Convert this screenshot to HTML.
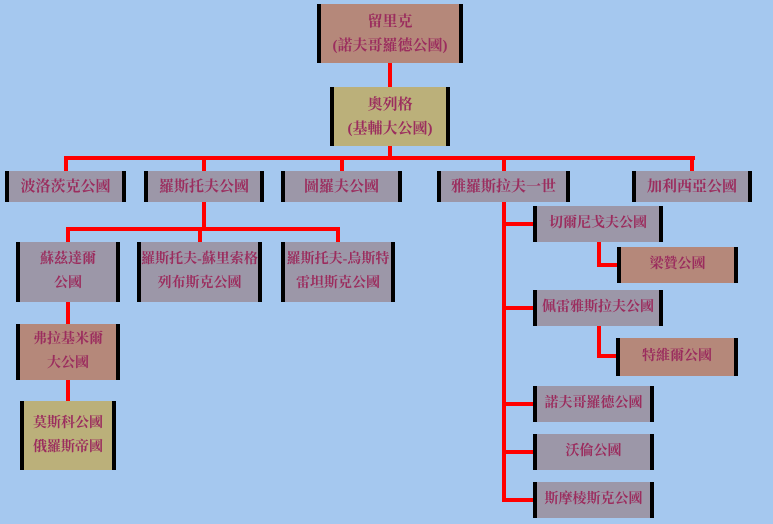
<!DOCTYPE html>
<html><head><meta charset="utf-8"><style>
body{margin:0;width:773px;height:524px;background:#a5c8ef;position:relative;overflow:hidden;font-family:"Liberation Serif","Noto Serif CJK SC","Noto Sans CJK TC",serif;}
.b{position:absolute;box-sizing:border-box;border-left:4px solid #000;border-right:4px solid #000;display:flex;align-items:center;justify-content:center;text-align:center;color:#9b2d5e;font-weight:bold;font-size:14px;line-height:24px;}
.big{font-size:15px;}
.g{background:#9c97a8}.r{background:#b5887a}.o{background:#bbb07a}
.l{position:absolute;background:#f00}
</style></head><body>
<div class="l" style="left:388px;top:63px;width:4px;height:24px"></div>
<div class="l" style="left:388px;top:146px;width:4px;height:13px"></div>
<div class="l" style="left:64px;top:156px;width:631px;height:4px"></div>
<div class="l" style="left:64px;top:156px;width:4px;height:16px"></div>
<div class="l" style="left:202px;top:156px;width:4px;height:16px"></div>
<div class="l" style="left:340px;top:156px;width:4px;height:16px"></div>
<div class="l" style="left:502px;top:156px;width:4px;height:16px"></div>
<div class="l" style="left:690px;top:156px;width:4px;height:16px"></div>
<div class="l" style="left:202px;top:202px;width:4px;height:28px"></div>
<div class="l" style="left:66px;top:227px;width:274px;height:4px"></div>
<div class="l" style="left:66px;top:227px;width:4px;height:15px"></div>
<div class="l" style="left:198px;top:227px;width:4px;height:15px"></div>
<div class="l" style="left:336px;top:227px;width:4px;height:15px"></div>
<div class="l" style="left:66px;top:302px;width:4px;height:22px"></div>
<div class="l" style="left:66px;top:380px;width:4px;height:21px"></div>
<div class="l" style="left:502px;top:202px;width:4px;height:300px"></div>
<div class="l" style="left:502px;top:222px;width:32px;height:4px"></div>
<div class="l" style="left:502px;top:306px;width:32px;height:4px"></div>
<div class="l" style="left:502px;top:402px;width:32px;height:4px"></div>
<div class="l" style="left:502px;top:450px;width:32px;height:4px"></div>
<div class="l" style="left:502px;top:498px;width:32px;height:4px"></div>
<div class="l" style="left:597px;top:242px;width:4px;height:25px"></div>
<div class="l" style="left:597px;top:263px;width:20px;height:4px"></div>
<div class="l" style="left:597px;top:326px;width:4px;height:32px"></div>
<div class="l" style="left:597px;top:354px;width:20px;height:4px"></div>
<div class="b r big" style="left:317px;top:4px;width:146px;height:59px">留里克<br>(諾夫哥羅德公國)</div>
<div class="b o big" style="left:330px;top:87px;width:120px;height:59px">奧列格<br>(基輔大公國)</div>
<div class="b g big" style="left:5px;top:171px;width:121px;height:31px">波洛茨克公國</div>
<div class="b g big" style="left:144px;top:171px;width:120px;height:31px">羅斯托夫公國</div>
<div class="b g big" style="left:281px;top:171px;width:121px;height:31px">圖羅夫公國</div>
<div class="b g big" style="left:437px;top:171px;width:133px;height:31px">雅羅斯拉夫一世</div>
<div class="b g big" style="left:632px;top:171px;width:120px;height:31px">加利西亞公國</div>
<div class="b g" style="left:16px;top:242px;width:104px;height:60px">蘇茲達爾<br>公國</div>
<div class="b g" style="left:137px;top:242px;width:125px;height:60px">羅斯托夫-蘇里索格<br>列布斯克公國</div>
<div class="b g" style="left:281px;top:242px;width:114px;height:60px">羅斯托夫-烏斯特<br>雷坦斯克公國</div>
<div class="b r" style="left:16px;top:324px;width:104px;height:56px">弗拉基米爾<br>大公國</div>
<div class="b o" style="left:20px;top:401px;width:96px;height:69px">莫斯科公國<br>俄羅斯帝國</div>
<div class="b g" style="left:533px;top:206px;width:130px;height:36px">切爾尼戈夫公國</div>
<div class="b r" style="left:617px;top:247px;width:121px;height:36px">梁贊公國</div>
<div class="b g" style="left:533px;top:290px;width:130px;height:36px">佩雷雅斯拉夫公國</div>
<div class="b r" style="left:616px;top:338px;width:122px;height:38px">特維爾公國</div>
<div class="b g" style="left:533px;top:386px;width:121px;height:36px">諾夫哥羅德公國</div>
<div class="b g" style="left:533px;top:434px;width:121px;height:36px">沃倫公國</div>
<div class="b g" style="left:533px;top:482px;width:121px;height:36px">斯摩棱斯克公國</div>
</body></html>
